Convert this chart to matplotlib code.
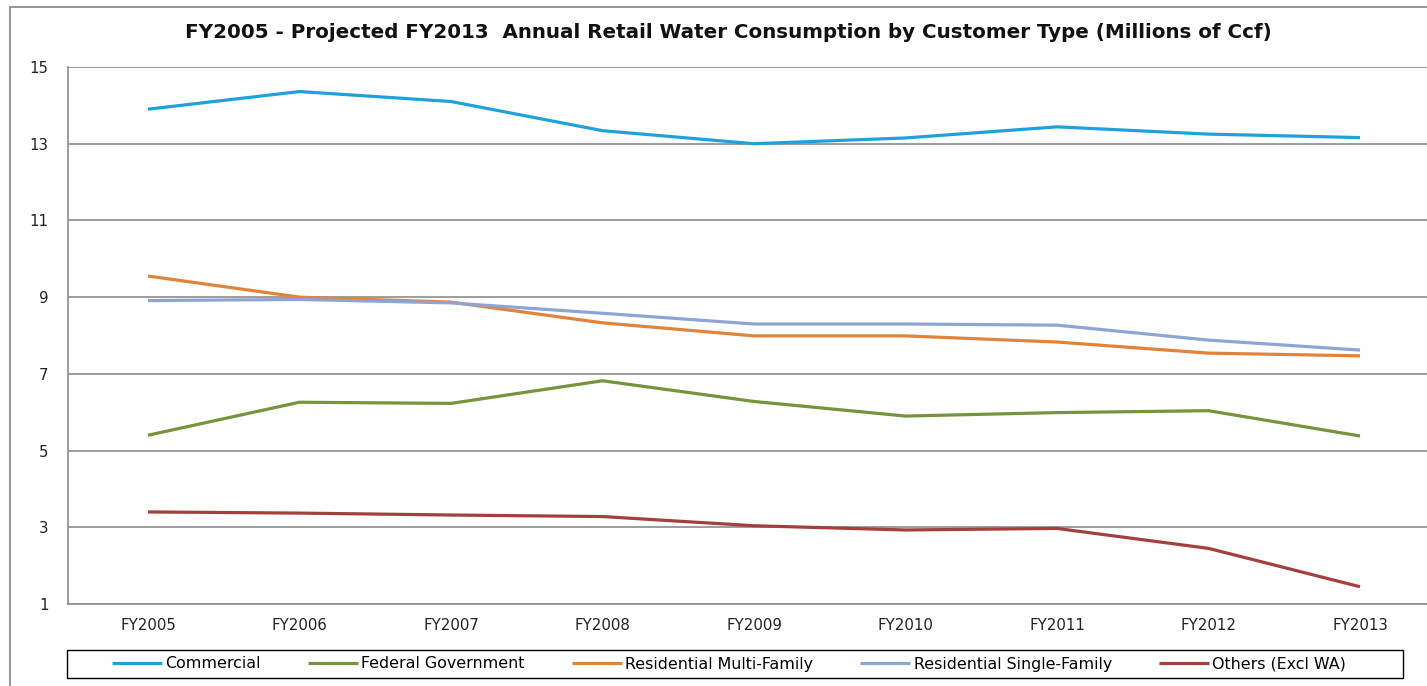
import matplotlib
matplotlib.use("Agg")
import matplotlib.pyplot as plt
from matplotlib.patches import Rectangle

years = ["FY2005", "FY2006", "FY2007", "FY2008", "FY2009",
         "FY2010", "FY2011", "FY2012", "FY2013"]

commercial = [13.90, 14.36, 14.10, 13.34, 13.00, 13.15, 13.44, 13.25, 13.16]
federal_gov = [5.40, 6.26, 6.23, 6.82, 6.28, 5.90, 5.99, 6.04, 5.38]
res_multi = [9.55, 9.00, 8.87, 8.33, 7.99, 7.99, 7.83, 7.54, 7.47]
res_single = [8.91, 8.94, 8.85, 8.58, 8.30, 8.30, 8.27, 7.88, 7.62]
others = [3.40, 3.37, 3.32, 3.28, 3.04, 2.93, 2.97, 2.45, 1.45]

series_names = ["Commercial", "Federal Government", "Residential Multi-Family",
                "Residential Single-Family", "Others (Excl WA)"]
series_values = [commercial, federal_gov, res_multi, res_single, others]
series_colors = ["#1FA2DB", "#77933C", "#E2833A", "#8EA5D4", "#A3403D"]

y_ticks = [1, 3, 5, 7, 9, 11, 13, 15]
title = "FY2005 - Projected FY2013  Annual Retail Water Consumption by Customer Type (Millions of Ccf)"

plt.rcParams["font.family"] = ["DejaVu Sans"]

W, H = 1427, 686
fig = plt.figure(figsize=(W / 100, H / 100), dpi=100)
fig.patch.set_facecolor("white")

# outer chart frame (runs off the right and bottom edges)
fig.patches.append(Rectangle((10 / W, -0.2), 1.2, (H - 7) / H + 0.2,
                             transform=fig.transFigure, fill=False,
                             edgecolor="#8C8C8C", linewidth=1.3))

ax_left, ax_right = 68 / W, 1.0
ax_bottom, ax_top = (H - 604) / H, (H - 67) / H
ax = fig.add_axes([ax_left, ax_bottom, ax_right - ax_left, ax_top - ax_bottom])

x = list(range(len(years)))
for name, vals, col in zip(series_names, series_values, series_colors):
    ax.plot(x, vals, color=col, linewidth=2.3, label=name,
            solid_capstyle="butt", solid_joinstyle="round", zorder=3)

# category spacing: 151.5 px per year, first year at x=148 px
step = 151.5
ax.set_xlim(-(148 - 68) / step, 8 + (W - 1360) / step)
ax.set_ylim(1, 15)
ax.set_yticks(y_ticks)
ax.set_yticklabels([str(v) for v in y_ticks])
ax.set_xticks(x)
ax.set_xticklabels(years)
ax.grid(axis="y", color="#8C8C8C", linewidth=1.2, zorder=1)
ax.tick_params(axis="both", length=0, labelsize=10.8, colors="#222222")
ax.tick_params(axis="y", pad=14)
ax.tick_params(axis="x", pad=10)

for side in ["top", "right"]:
    ax.spines[side].set_visible(False)
ax.spines["left"].set_color("#8C8C8C")
ax.spines["bottom"].set_color("#8C8C8C")
ax.spines["left"].set_linewidth(1.2)
ax.spines["bottom"].set_linewidth(1.2)

fig.text(728 / W, (H - 33) / H, title, ha="center", va="center",
         fontsize=14.3, fontweight="bold", color="#111111")

# legend entries laid out in one row, framed by a separate box
fig.patches.append(Rectangle((67 / W, (H - 678) / H), (1403 - 67) / W, 28 / H,
                             transform=fig.transFigure, fill=False,
                             edgecolor="#000000", linewidth=1.0))
fig.legend(loc="center left", bbox_to_anchor=(112 / W, (H - 664) / H),
           ncol=5, frameon=False, fontsize=11.4, handlelength=3.15,
           handletextpad=0.2, columnspacing=3.0,
           borderpad=0, borderaxespad=0)

fig.savefig("out.png", dpi=100, facecolor="white")
